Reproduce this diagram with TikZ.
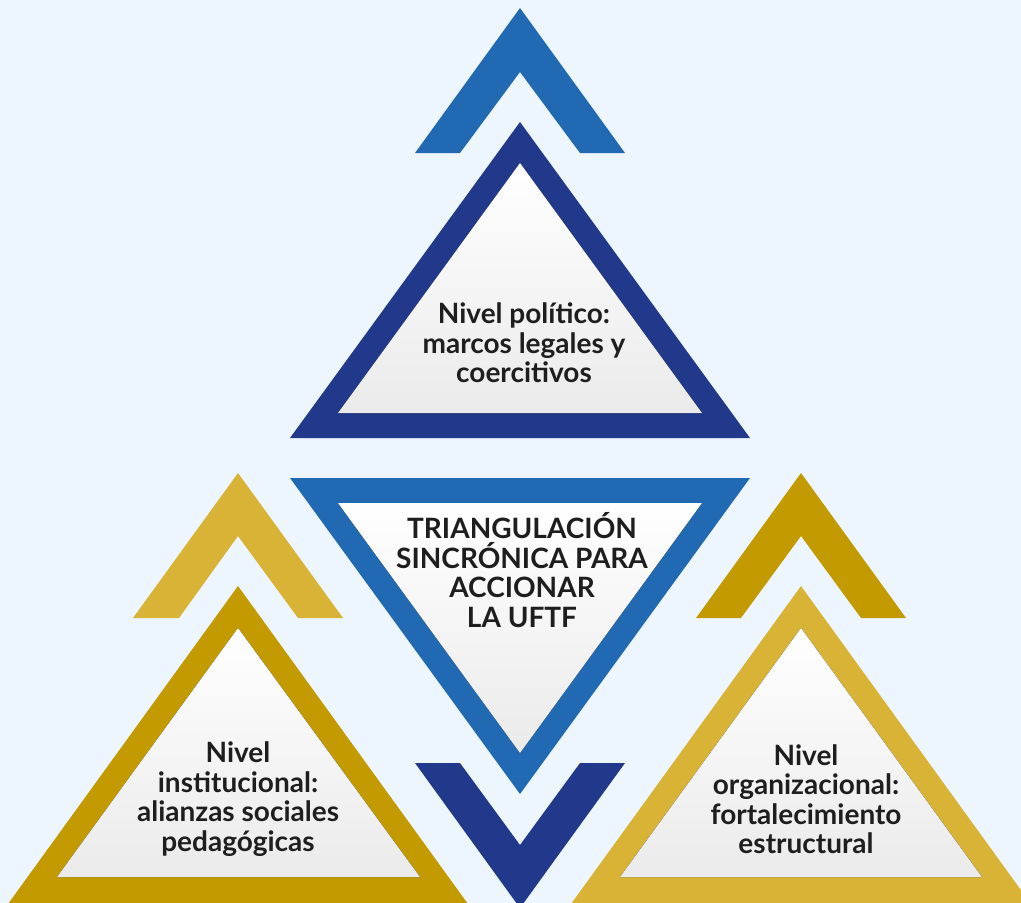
\documentclass[tikz,border=0pt]{standalone}
\usepackage{fontspec}
\setmainfont{Lato}
\definecolor{fondo}{HTML}{EDF5FE}
\definecolor{azul}{HTML}{2269B3}
\definecolor{marino}{HTML}{22388B}
\definecolor{oro}{HTML}{C39B00}
\definecolor{oroclaro}{HTML}{D8B335}
\definecolor{texto}{HTML}{1E1E1E}
\tikzset{
  relleno/.style={top color=white, bottom color=black!8},
  nivel/.style={align=center, text=texto, font=\fontsize{28}{29.5}\selectfont\bfseries, inner sep=0pt}
}
\begin{document}
\begin{tikzpicture}[x=1pt,y=-1pt]
\fill[fondo] (0,0) rectangle (1021,903);
\clip (0,0) rectangle (1021,903);

% flecha superior
\fill[azul] (415,153) -- (520,8) -- (625,153) -- (580,153) -- (520,72) -- (460,153) -- cycle;

% triangulo politico
\fill[marino] (290,438) -- (520,122) -- (750,438) -- cycle;
\fill[relleno] (338,413) -- (520,163) -- (702,413) -- cycle;
\node[nivel] (politico) at (524,343) {Nivel político:\\marcos legales y\\coercitivos};

% triangulo central invertido
\fill[azul] (290,478) -- (750,478) -- (520,794) -- cycle;
\fill[relleno] (338,503) -- (702,503) -- (520,753) -- cycle;
\node[nivel] (centro) at (522,570) {TRIANGULACIÓN\\SINCRÓNICA PARA\\ACCIONAR\\LA UFTF};

% flecha inferior
\fill[marino] (415,763) -- (460,763) -- (520,845) -- (580,763) -- (625,763) -- (520,908) -- cycle;

% izquierda
\fill[oroclaro] (133,618) -- (238,473) -- (343,618) -- (298,618) -- (238,536) -- (179,618) -- cycle;
\fill[oro] (8,904) -- (238,586) -- (468,904) -- cycle;
\fill[relleno] (57,877) -- (238,628) -- (420,877) -- cycle;
\node[nivel] (institucional) at (238,799) {Nivel\\institucional:\\alianzas sociales\\pedagógicas};

% derecha
\fill[oro] (696,618) -- (801,473) -- (906,618) -- (861,618) -- (801,536) -- (741,618) -- cycle;
\fill[oroclaro] (571,904) -- (801,586) -- (1031,904) -- cycle;
\fill[relleno] (620,877) -- (801,628) -- (982,877) -- cycle;
\node[nivel] (organizacional) at (806,799) {Nivel\\organizacional:\\fortalecimiento\\estructural};
\end{tikzpicture}
\end{document}
